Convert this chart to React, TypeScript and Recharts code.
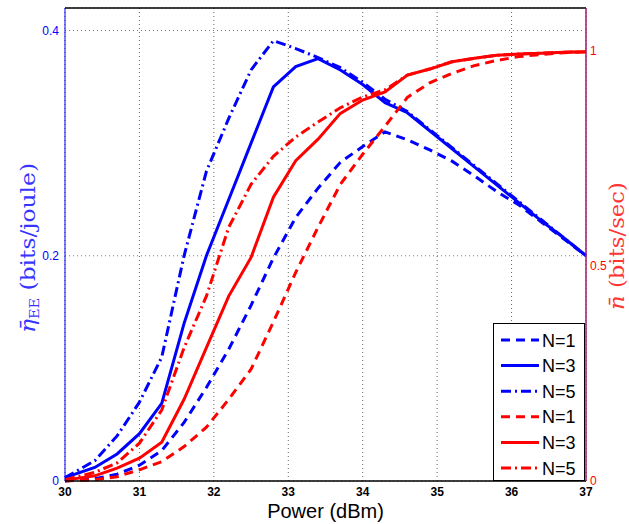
import { LineChart, Line, XAxis, YAxis, CartesianGrid, ReferenceLine } from 'recharts';

// transmit power samples (dBm)
const power = [30, 30.4, 30.7, 31.0, 31.3, 31.6, 31.9, 32.2, 32.5, 32.8, 33.1, 33.4,
  33.7, 34.0, 34.3, 34.6, 34.9, 35.2, 35.5, 35.8, 36.1, 36.4, 36.7, 37.0];

// energy efficiency (left axis, bits/joule)
const eeN1 = [0.0, 0.002, 0.006, 0.014, 0.027, 0.052, 0.083, 0.117, 0.156, 0.198, 0.234, 0.26,
  0.283, 0.297, 0.31, 0.303, 0.294, 0.284, 0.271, 0.257, 0.245, 0.23, 0.215, 0.2];
const eeN3 = [0.003, 0.012, 0.024, 0.042, 0.069, 0.14, 0.2, 0.25, 0.3, 0.35, 0.368, 0.375,
  0.365, 0.352, 0.336, 0.327, 0.311, 0.295, 0.279, 0.263, 0.247, 0.231, 0.216, 0.2];
const eeN5 = [0.003, 0.018, 0.04, 0.07, 0.11, 0.2, 0.275, 0.322, 0.365, 0.391, 0.384, 0.376,
  0.367, 0.354, 0.339, 0.328, 0.312, 0.296, 0.28, 0.264, 0.248, 0.232, 0.216, 0.2];

// rate (right axis, bits/sec)
const rateN1 = [0.0, 0.003, 0.01, 0.026, 0.045, 0.08, 0.125, 0.19, 0.26, 0.37, 0.485, 0.59,
  0.69, 0.76, 0.825, 0.892, 0.926, 0.948, 0.966, 0.978, 0.987, 0.992, 0.996, 0.998];
const rateN3 = [0.002, 0.012, 0.03, 0.053, 0.09, 0.19, 0.31, 0.43, 0.52, 0.66, 0.745, 0.795,
  0.855, 0.886, 0.905, 0.944, 0.958, 0.975, 0.983, 0.99, 0.993, 0.995, 0.997, 0.998];
const rateN5 = [0.003, 0.02, 0.042, 0.088, 0.165, 0.31, 0.43, 0.59, 0.69, 0.755, 0.8, 0.835,
  0.868, 0.893, 0.91, 0.944, 0.958, 0.975, 0.983, 0.99, 0.993, 0.995, 0.997, 0.998];

const xTicks = [30, 31, 32, 33, 34, 35, 36, 37];
const eeTicks = [0, 0.2, 0.4];
const rateTicks = [0, 0.5, 1];

const data = power.map((p, i) => ({
  power: p,
  eeN1: eeN1[i], eeN3: eeN3[i], eeN5: eeN5[i],
  rateN1: rateN1[i], rateN3: rateN3[i], rateN5: rateN5[i],
}));

const BLUE = '#0000ff';
const RED = '#ff0000';
const DASH = '9 6';
const DASHDOT = '10 4 2 4';

const series = [
  { key: 'eeN1', axis: 'left', color: BLUE, dash: DASH, name: 'N=1' },
  { key: 'eeN3', axis: 'left', color: BLUE, dash: undefined, name: 'N=3' },
  { key: 'eeN5', axis: 'left', color: BLUE, dash: DASHDOT, name: 'N=5' },
  { key: 'rateN1', axis: 'right', color: RED, dash: DASH, name: 'N=1' },
  { key: 'rateN3', axis: 'right', color: RED, dash: undefined, name: 'N=3' },
  { key: 'rateN5', axis: 'right', color: RED, dash: DASHDOT, name: 'N=5' },
];

const sans = '"Liberation Sans", Arial, Helvetica, sans-serif';
const serif = '"DejaVu Serif", "Liberation Serif", serif';

const LeftLabel = ({ viewBox }: any) => {
  const x = viewBox.x + 35;
  const y = viewBox.y + 240;
  return (
    <text x={x} y={y} transform={`rotate(-90, ${x}, ${y})`} textAnchor="middle"
      fill="#3535ff" fontFamily={serif} fontSize={21} textLength={170} lengthAdjust="spacingAndGlyphs">
      <tspan fontStyle="italic">η̄</tspan>
      <tspan fontSize={13} dy={4}>EE</tspan>
      <tspan dy={-4}>{' (bits/joule)'}</tspan>
    </text>
  );
};

const RightLabel = ({ viewBox }: any) => {
  const x = viewBox.x + 38;
  const y = viewBox.y + 238;
  return (
    <text x={x} y={y} transform={`rotate(-90, ${x}, ${y})`} textAnchor="middle"
      fill="#ff3535" fontFamily={serif} fontSize={20} textLength={128} lengthAdjust="spacingAndGlyphs">
      <tspan fontStyle="italic">n̄</tspan>
      <tspan>{' (bits/sec)'}</tspan>
    </text>
  );
};

const XLabel = ({ viewBox }: any) => (
  <text x={viewBox.x + viewBox.width / 2} y={viewBox.y + 37} textAnchor="middle"
    fill="#000" fontFamily={sans} fontSize={20}>
    Power (dBm)
  </text>
);

function LegendBox() {
  return (
    <div style={{
      position: 'absolute', left: 493, top: 323, width: 90, height: 156,
      border: '1.2px solid #000', background: '#fff',
    }}>
      <svg width={90} height={156}>
        {series.map((s, i) => {
          const cy = 16 + i * 25.6;
          return (
            <g key={s.key}>
              <line x1={7} x2={45} y1={cy} y2={cy} stroke={s.color} strokeWidth={3}
                strokeDasharray={s.dash} />
              <text x={48} y={cy + 6.5} fontFamily={sans} fontSize={18} fill="#000">{s.name}</text>
            </g>
          );
        })}
      </svg>
    </div>
  );
}

export default function App() {
  return (
    <div style={{ position: 'absolute', left: 0, top: 0, width: 629, height: 524, background: '#fff', overflow: 'hidden' }}>
      <LineChart width={629} height={524} data={data} margin={{ top: 8, right: 0, bottom: 0, left: 0 }}>
        <CartesianGrid horizontal={false} stroke="#666" strokeDasharray="1 3" />
        <CartesianGrid vertical={false} yAxisId="left" stroke="#6a6aff" strokeDasharray="1 3" />
        <XAxis dataKey="power" type="number" domain={[30, 37]} ticks={xTicks} height={43}
          axisLine={{ stroke: '#000', strokeWidth: 1.5 }} tickLine={false} tickSize={0} tickMargin={6}
          tick={{ fill: '#000', fontFamily: sans, fontSize: 12, fontWeight: 'bold' }}
          label={{ content: XLabel }} />
        <YAxis yAxisId="left" orientation="left" domain={[0, 0.42]} ticks={eeTicks} width={65}
          axisLine={{ stroke: BLUE, strokeWidth: 1 }} tickLine={false} tickSize={0} tickMargin={6}
          tick={{ fill: BLUE, fontFamily: sans, fontSize: 12 }}
          tickFormatter={(v: number) => String(v)}
          label={{ content: LeftLabel }} />
        <YAxis yAxisId="right" orientation="right" domain={[0, 1.1]} ticks={rateTicks} width={43}
          axisLine={{ stroke: '#a3176c', strokeWidth: 1.5 }} tickLine={false} tickSize={0} tickMargin={4}
          tick={{ fill: RED, fontFamily: sans, fontSize: 12 }}
          tickFormatter={(v: number) => String(v)}
          label={{ content: RightLabel }} />
        <ReferenceLine yAxisId="left" y={0.42} stroke="#000" strokeWidth={1.5} />
        {series.map((s) => (
          <Line key={s.key} yAxisId={s.axis} dataKey={s.key} type="linear" stroke={s.color}
            strokeWidth={3} strokeDasharray={s.dash} dot={false} activeDot={false}
            isAnimationActive={false} />
        ))}
      </LineChart>
      <LegendBox />
    </div>
  );
}
